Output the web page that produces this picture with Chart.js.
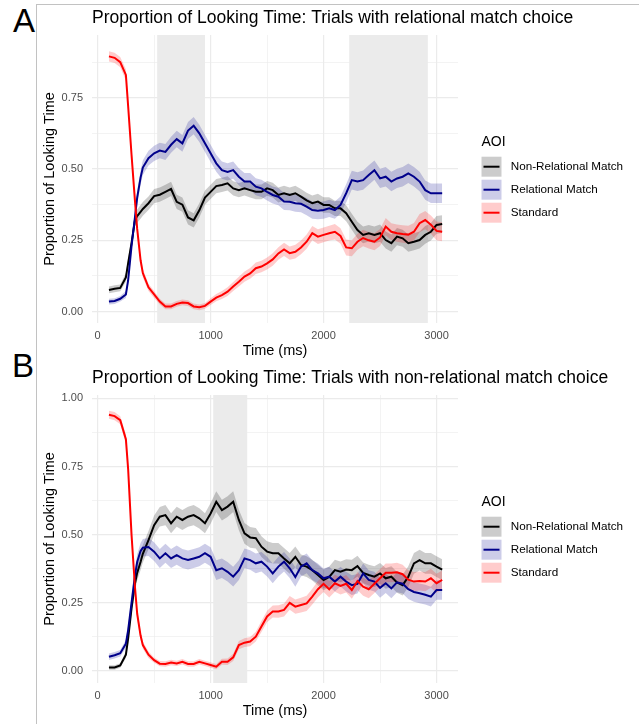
<!DOCTYPE html>
<html>
<head>
<meta charset="utf-8">
<script src="https://cdn.jsdelivr.net/npm/chart.js@4.4.1/dist/chart.umd.min.js"></script>
<style>
  body { margin: 0; background: #fff; width: 639px; height: 724px; overflow: hidden; position: relative;
         font-family: "Liberation Sans", Arial, sans-serif; }
  #frame { position: absolute; left: 36px; top: 4px; width: 603px; height: 720px;
           border-left: 1px solid #c2c2c2; border-top: 1px solid #c2c2c2; }
  .tag { position: absolute; font-size: 33px; line-height: 33px; color: #000; }
  canvas { position: absolute; left: 0; }
  #panelA { top: 0; }
  #panelB { top: 360px; }
</style>
</head>
<body>
<div id="frame"></div>
<div class="tag" style="left:13px;top:4px">A</div>
<div class="tag" style="left:12px;top:349px">B</div>
<canvas id="panelA" width="639" height="360"></canvas>
<canvas id="panelB" width="639" height="364"></canvas>
<script>
// time bins (ms), shared by both panels
const timeMs = [100,150,200,250,270,300,330,350,380,
  400,450,500,550,600,650,700,750,800,850,900,950,
  1000,1050,1100,1150,1200,1250,1300,1350,1400,1450,
  1500,1550,1600,1650,1700,1750,1800,1850,1900,1950,
  2000,2050,2100,2150,2200,2250,2300,2350,2400,2450,
  2500,2550,2600,2650,2700,2750,2800,2850,2900,2950,3000,3050];

const aoiLabels = ['Non-Relational Match', 'Relational Match', 'Standard'];
const lineColors = ['#000000', '#00008B', '#FF0000'];
const ribbonColors = ['rgba(0,0,0,0.2)', 'rgba(0,0,139,0.2)', 'rgba(255,0,0,0.2)'];

// A: trials with relational match choice
const nonRelA = [.076,.08,.083,.12,.17,.24,.32,.335,.35,
  .36,.38,.405,.41,.42,.43,.385,.375,.33,.32,.355,.40,
  .42,.44,.444,.45,.432,.426,.432,.426,.42,.42,
  .432,.426,.409,.415,.409,.415,.403,.39,.38,.386,
  .374,.374,.362,.362,.345,.315,.286,.269,.275,.269,
  .275,.251,.24,.263,.257,.24,.245,.251,.269,.28,.304,.307];
const relA = [.035,.037,.045,.06,.11,.23,.33,.40,.47,
  .505,.538,.555,.565,.56,.585,.605,.59,.635,.652,.625,.59,
  .555,.52,.496,.49,.496,.473,.456,.456,.438,.432,
  .42,.409,.403,.386,.385,.38,.378,.368,.356,.354,
  .356,.362,.356,.374,.415,.461,.456,.461,.479,.496,
  .467,.473,.456,.467,.473,.485,.473,.456,.426,.415,.415,.415];
const stdA = [.895,.89,.875,.83,.72,.55,.39,.29,.18,
  .135,.085,.06,.035,.018,.018,.027,.032,.03,.018,.015,.02,
  .035,.049,.058,.07,.088,.105,.123,.134,.152,.158,
  .169,.183,.204,.218,.205,.21,.225,.245,.275,.263,
  .269,.275,.28,.265,.225,.222,.245,.258,.25,.245,
  .26,.298,.28,.275,.272,.27,.28,.31,.321,.305,.283,.28];
const nonRelSeA = [.012,.012,.012,.015,.018,.02,.022,.023,.024,
  .024,.024,.025,.025,.025,.025,.025,.025,.025,.025,.025,.025,
  .025,.025,.025,.025,.025,.025,.025,.026,.026,.026,
  .026,.026,.026,.026,.026,.026,.027,.027,.027,.027,
  .027,.027,.027,.027,.028,.028,.029,.029,.029,.029,
  .03,.03,.03,.03,.03,.03,.03,.03,.031,.031,.031,.031];
const relSeA = [.01,.01,.01,.012,.015,.02,.022,.024,.025,
  .026,.026,.027,.027,.028,.028,.029,.029,.03,.03,.03,.03,
  .03,.03,.03,.03,.03,.03,.03,.03,.03,.03,
  .03,.03,.03,.03,.03,.03,.03,.03,.03,.03,
  .03,.03,.03,.03,.032,.033,.033,.034,.034,.034,
  .034,.034,.034,.034,.034,.034,.034,.034,.034,.034,.034,.034];
const stdSeA = [.018,.018,.018,.02,.02,.02,.02,.018,.015,
  .015,.013,.012,.01,.01,.01,.01,.01,.01,.01,.01,.01,
  .012,.013,.014,.015,.016,.017,.018,.019,.02,.02,
  .021,.022,.022,.023,.023,.024,.024,.025,.025,.026,
  .026,.026,.027,.027,.028,.028,.028,.029,.029,.03,
  .03,.03,.03,.03,.031,.031,.031,.032,.032,.032,.033,.033];

// B: trials with non-relational match choice
const nonRelB = [.013,.013,.02,.06,.12,.23,.32,.36,.40,
  .43,.48,.535,.566,.572,.542,.566,.554,.566,.572,.56,.542,
  .578,.621,.59,.603,.621,.554,.505,.49,.487,.456,
  .438,.432,.432,.413,.395,.419,.389,.383,.37,.352,
  .334,.345,.37,.364,.372,.37,.385,.36,.352,.346,
  .358,.34,.346,.325,.315,.346,.395,.407,.395,.395,.383,.372];
const relB = [.052,.058,.065,.10,.15,.25,.35,.40,.44,
  .452,.455,.438,.413,.432,.413,.425,.413,.407,.413,.419,.432,
  .419,.37,.377,.364,.346,.37,.413,.407,.395,.401,
  .383,.358,.383,.401,.377,.345,.383,.395,.37,.358,
  .34,.346,.328,.346,.328,.315,.32,.358,.334,.328,
  .305,.322,.303,.325,.32,.30,.29,.285,.28,.273,.297,.297];
const stdB = [.94,.935,.92,.85,.74,.50,.31,.21,.13,
  .095,.06,.04,.027,.026,.031,.028,.034,.026,.026,.034,.028,
  .022,.016,.034,.034,.05,.095,.104,.108,.126,.163,
  .2,.218,.218,.224,.25,.236,.242,.248,.273,.3,
  .32,.3,.322,.312,.32,.297,.33,.309,.3,.32,
  .34,.36,.36,.362,.355,.335,.328,.33,.328,.34,.322,.334];
const nonRelSeB = [.008,.008,.008,.012,.018,.022,.026,.028,.03,
  .032,.034,.035,.036,.037,.037,.037,.037,.037,.037,.037,.037,
  .038,.038,.038,.038,.038,.038,.038,.038,.038,.038,
  .038,.038,.038,.038,.038,.038,.038,.038,.038,.038,
  .038,.038,.038,.038,.038,.038,.038,.038,.038,.038,
  .038,.038,.038,.038,.038,.038,.038,.038,.038,.038,.038,.038];
const relSeB = [.012,.012,.012,.015,.018,.022,.025,.028,.03,
  .032,.033,.034,.035,.035,.035,.035,.035,.035,.035,.035,.035,
  .035,.036,.036,.036,.036,.036,.036,.036,.036,.036,
  .036,.036,.036,.036,.036,.036,.036,.036,.036,.036,
  .036,.036,.036,.036,.036,.036,.036,.036,.036,.036,
  .036,.036,.036,.036,.036,.036,.036,.036,.036,.036,.036,.036];
const stdSeB = [.015,.015,.015,.018,.02,.02,.02,.018,.015,
  .013,.012,.01,.01,.01,.01,.01,.01,.01,.01,.01,.01,
  .01,.01,.011,.012,.013,.015,.016,.017,.018,.02,
  .021,.022,.023,.024,.025,.026,.027,.028,.029,.03,
  .03,.03,.031,.031,.032,.032,.033,.033,.033,.034,
  .034,.034,.034,.035,.035,.035,.035,.035,.035,.035,.035,.035];

// grey analysis windows (ms)
const shadeA = [[527, 950], [2227, 2923]];
const shadeB = [[1023, 1324]];

// grid positions (major + minor) and which of them get a label
const xGrid = [0, 500, 1000, 1500, 2000, 2500, 3000];
const xTickLabels = [0, 1000, 2000, 3000];
const yGridA = [0, 0.125, 0.25, 0.375, 0.5, 0.625, 0.75, 0.875];
const yGridB = [0, 0.125, 0.25, 0.375, 0.5, 0.625, 0.75, 0.875, 1];
const yTickLabels = [0, 0.25, 0.5, 0.75, 1];

const FONT = '"Liberation Sans", Arial, sans-serif';
const isIn = (list, v) => list.some(t => Math.abs(t - v) < 1e-9);

function buildDatasets(values, ses) {
  const lines = [], bands = [];
  // later groups go first so they are painted on top (like ggplot)
  for (let k = values.length - 1; k >= 0; k--) {
    lines.push({
      label: aoiLabels[k],
      data: timeMs.map((t, i) => ({x: t, y: values[k][i]})),
      borderColor: lineColors[k], borderWidth: 2, pointRadius: 0, fill: false, tension: 0
    });
  }
  for (let k = values.length - 1; k >= 0; k--) {
    bands.push({
      data: timeMs.map((t, i) => ({x: t, y: values[k][i] + ses[k][i]})),
      borderColor: 'rgba(0,0,0,0)', borderWidth: 0, pointRadius: 0,
      fill: '+1', backgroundColor: ribbonColors[k]
    });
    bands.push({
      data: timeMs.map((t, i) => ({x: t, y: values[k][i] - ses[k][i]})),
      borderColor: 'rgba(0,0,0,0)', borderWidth: 0, pointRadius: 0, fill: false
    });
  }
  return lines.concat(bands);
}

function makeChart(id, title, values, ses, shades, yMin, yMax, yGrid, xHeight) {
  const decor = {
    id: 'decor',
    beforeDraw(chart) {
      // shaded windows sit under the grid (same grey, so lines vanish on them)
      const {ctx, chartArea: a, scales: {x}} = chart;
      ctx.save();
      ctx.fillStyle = '#ebebeb';
      shades.forEach(([s, e]) => {
        const x0 = x.getPixelForValue(s), x1 = x.getPixelForValue(e);
        ctx.fillRect(x0, a.top, x1 - x0, a.bottom - a.top);
      });
      ctx.restore();
    },
    afterDraw(chart) {
      const {ctx, chartArea: a} = chart;
      ctx.save();
      ctx.fillStyle = '#000';
      ctx.textBaseline = 'middle';
      // plot title, left-aligned on the panel
      ctx.font = '17.5px ' + FONT;
      ctx.textAlign = 'left';
      ctx.fillText(title, a.left, 18.5);
      // axis titles
      ctx.font = '14.5px ' + FONT;
      ctx.textAlign = 'center';
      ctx.fillText('Time (ms)', (a.left + a.right) / 2, a.bottom + 28);
      ctx.save();
      ctx.translate(50, (a.top + a.bottom) / 2);
      ctx.rotate(-Math.PI / 2);
      ctx.fillText('Proportion of Looking Time', 0, 0);
      ctx.restore();
      // legend
      const lx = a.right + 23.5;
      ctx.textAlign = 'left';
      ctx.font = '14px ' + FONT;
      ctx.fillText('AOI', lx, a.top + 107.5);
      ctx.font = '11.7px ' + FONT;
      aoiLabels.forEach((lab, k) => {
        const cy = a.top + 131.7 + k * 23;
        ctx.fillStyle = ribbonColors[k];
        ctx.fillRect(lx, cy - 10, 20, 20);
        ctx.strokeStyle = lineColors[k];
        ctx.lineWidth = 2;
        ctx.beginPath();
        ctx.moveTo(lx + 2, cy);
        ctx.lineTo(lx + 18, cy);
        ctx.stroke();
        ctx.fillStyle = '#000';
        ctx.fillText(lab, lx + 29.2, cy);
      });
      ctx.restore();
    }
  };

  return new Chart(document.getElementById(id), {
    type: 'line',
    data: {datasets: buildDatasets(values, ses)},
    plugins: [decor],
    options: {
      responsive: false,
      animation: false,
      events: [],
      devicePixelRatio: 1,
      layout: {padding: {left: 0, right: 181, top: 35, bottom: 0}},
      plugins: {
        legend: {display: false},
        tooltip: {enabled: false},
        title: {display: false},
        filler: {drawTime: 'beforeDatasetsDraw'}
      },
      scales: {
        x: {
          type: 'linear', min: -50, max: 3190,
          afterBuildTicks(s) { s.ticks = xGrid.map(v => ({value: v})); },
          ticks: {
            autoSkip: false, maxRotation: 0,
            padding: 6.5, color: '#4d4d4d', font: {size: 11, family: FONT},
            callback: v => isIn(xTickLabels, v) ? String(v) : ''
          },
          grid: {
            drawTicks: false, color: '#ebebeb',
            lineWidth: c => (c.tick && isIn(xTickLabels, c.tick.value)) ? 1.2 : 0.6
          },
          border: {display: false},
          afterFit(s) { s.height = xHeight; }
        },
        y: {
          min: yMin, max: yMax,
          afterBuildTicks(s) { s.ticks = yGrid.map(v => ({value: v})); },
          ticks: {
            autoSkip: false, padding: 9,
            color: '#4d4d4d', font: {size: 11, family: FONT},
            callback: v => isIn(yTickLabels, v) ? v.toFixed(2) : ''
          },
          grid: {
            drawTicks: false, color: '#ebebeb',
            lineWidth: c => (c.tick && isIn(yTickLabels, c.tick.value)) ? 1.2 : 0.6
          },
          border: {display: false},
          afterFit(s) { s.width = 92; }
        }
      }
    }
  });
}

makeChart('panelA', 'Proportion of Looking Time: Trials with relational match choice',
  [nonRelA, relA, stdA], [nonRelSeA, relSeA, stdSeA], shadeA, -0.04, 0.97, yGridA, 37);
makeChart('panelB', 'Proportion of Looking Time: Trials with non-relational match choice',
  [nonRelB, relB, stdB], [nonRelSeB, relSeB, stdSeB], shadeB, -0.044, 1.0125, yGridB, 41);
</script>
</body>
</html>
